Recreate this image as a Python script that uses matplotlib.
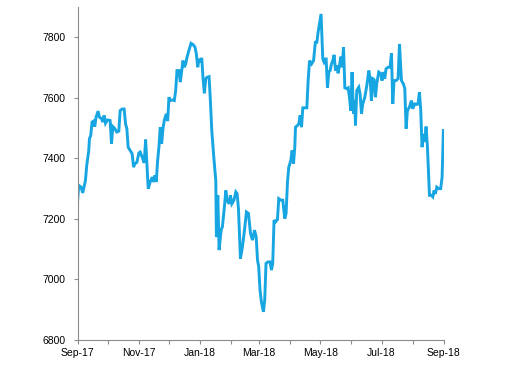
import matplotlib
matplotlib.use("Agg")
import matplotlib.pyplot as plt
import matplotlib.dates as mdates
import numpy as np
import pandas as pd

start_date = "2017-09-01"
end_date = "2018-09-01"

# day offsets from start_date and index level
days = [0, 1, 3.3, 5, 6.3, 7.7, 9, 11, 11.7, 13, 14.3, 15.7, 17, 18.3, 20.3, 21.7,
        23.7, 25, 26.3, 27.7, 29.7, 32.3, 33.7, 35, 37, 39, 41, 42.3, 44.3, 46.3,
        47.7, 49, 50.3, 52.3, 54.3, 55.7, 57, 59, 61, 62.3, 64.3, 66.3, 67.7, 69,
        70.3, 72.3, 74.3, 75.7, 77, 78.3, 79.7, 81, 82.3, 83.7, 85, 86.3, 88.3,
        89.7, 91, 92.3, 94.3, 96.3, 97.7, 99, 101, 102.3, 103.7, 105, 106.3, 107.7,
        109, 111, 113, 115, 117, 118.3, 119.7, 121, 122.3, 123.7, 125, 126.3, 127.7,
        129, 131, 132.3, 133.7, 135.7, 137.7, 138.3, 139.7, 141, 143, 144.3, 146.3,
        147.7, 149, 151, 152.3, 153.7, 155.7, 157.7, 159, 160.3, 162.3, 164.3, 166.3,
        168.3, 170.3, 172.3, 174.3, 176.3, 178, 179.3, 180.5, 181.8, 183.2, 185.2,
        186.5, 187.8, 189.8, 191.8, 193.2, 194.5, 195.8, 197.2, 199.2, 200.5, 202.5,
        204.5, 206.5, 207.8, 209.2, 210.5, 212.5, 213.8, 215.2, 216.5, 217.2, 219.2,
        220.5, 221.8, 223.2, 224.5, 226.5, 228.5, 229.8, 231.2, 233.2, 235.2, 237.1,
        238.4, 239.7, 241.1, 242.7, 244.4, 245.7, 247.7, 249.1, 250.4, 251.7, 253.1,
        254.4, 255.7, 257.1, 258.4, 259.7, 261.1, 262.4, 263.7, 265.1, 266.4, 268.4,
        269.7, 271.0, 272.3, 273.6, 275.0, 276.3, 277.0, 278.3, 280.3, 281.6, 283.0,
        284.3, 286.3, 288.3, 290.3, 291.6, 292.9, 294.3, 295.6, 296.9, 298.2, 300.2,
        302.2, 303.5, 304.9, 306.2, 307.5, 309.5, 311.5, 312.9, 314.2, 315.5, 317.5,
        319.5, 320.9, 322.9, 324.8, 326.2, 327.5, 328.8, 330.8, 332.8, 334.1, 336.1,
        338.1, 339.4, 340.8, 342.1, 343.4, 344.8, 346.1, 347.4, 348.8, 350.1, 350.8,
        352.7, 354.1, 355.4, 356.7, 358.1, 360.0, 362.0, 363.4, 364.7]

values = [7264, 7311, 7305, 7286, 7305, 7327, 7377, 7426, 7465, 7476, 7520, 7523, 7505,
          7536, 7556, 7536, 7531, 7520, 7542, 7516, 7527, 7525, 7448, 7505, 7498, 7487,
          7490, 7558, 7563, 7563, 7514, 7498, 7437, 7426, 7415, 7371, 7382, 7387, 7418,
          7421, 7404, 7385, 7462, 7382, 7300, 7322, 7338, 7322, 7344, 7322, 7393, 7437,
          7503, 7448, 7498, 7525, 7547, 7523, 7602, 7591, 7593, 7591, 7624, 7690, 7690,
          7652, 7688, 7723, 7701, 7712, 7734, 7758, 7780, 7776, 7767, 7745, 7701, 7729,
          7718, 7732, 7663, 7615, 7663, 7668, 7670, 7591, 7492, 7404, 7327, 7140, 7278,
          7097, 7163, 7174, 7240, 7294, 7261, 7250, 7278, 7250, 7261, 7289, 7283, 7234,
          7069, 7108, 7163, 7223, 7218, 7152, 7130, 7163, 7140, 7064, 7042, 6965, 6926,
          6893, 6932, 7053, 7058, 7058, 7031, 7053, 7196, 7190, 7198, 7267, 7262, 7262,
          7201, 7218, 7322, 7371, 7393, 7426, 7382, 7437, 7503, 7509, 7514, 7542, 7503,
          7567, 7567, 7567, 7657, 7723, 7712, 7723, 7787, 7780, 7816, 7844, 7877, 7729,
          7718, 7732, 7633, 7685, 7690, 7712, 7723, 7742, 7690, 7707, 7681, 7707, 7736,
          7701, 7767, 7633, 7630, 7633, 7602, 7558, 7685, 7547, 7591, 7509, 7624, 7635,
          7613, 7547, 7580, 7602, 7640, 7690, 7663, 7591, 7663, 7660, 7602, 7646, 7685,
          7680, 7657, 7685, 7663, 7696, 7701, 7701, 7747, 7580, 7657, 7657, 7663, 7778,
          7657, 7646, 7630, 7498, 7558, 7569, 7591, 7564, 7580, 7578, 7580, 7619, 7558,
          7437, 7481, 7454, 7505, 7437, 7338, 7278, 7278, 7273, 7294, 7283, 7305, 7300,
          7300, 7338, 7492]

y_ticks = [6800, 7000, 7200, 7400, 7600, 7800]
y_min, y_max = 6800, 7900

t0 = mdates.date2num(pd.Timestamp(start_date))
x = t0 + np.array(days)

fig = plt.figure(figsize=(5.12, 3.65), dpi=100)
ax = fig.add_axes([0.1518, 0.0685, 0.7148, 0.9123])
ax.plot(x, values, color="#17A6E2", lw=2.1, solid_joinstyle="miter")

ax.set_xlim(t0, mdates.date2num(pd.Timestamp(end_date)))
ax.set_ylim(y_min, y_max)
ax.set_yticks(y_ticks)

ax.xaxis.set_major_locator(mdates.MonthLocator(bymonth=[1, 3, 5, 7, 9, 11]))
ax.xaxis.set_minor_locator(mdates.MonthLocator())
ax.xaxis.set_major_formatter(mdates.DateFormatter("%b-%y"))

for s in ["top", "right"]:
    ax.spines[s].set_visible(False)
for s in ["left", "bottom"]:
    ax.spines[s].set_color("#8c8c8c")
    ax.spines[s].set_linewidth(0.8)

ax.tick_params(axis="both", which="both", direction="out", length=3, width=0.8,
               color="#8c8c8c", labelsize=7.5, labelcolor="#000000")
ax.tick_params(axis="x", pad=3)
ax.tick_params(axis="y", pad=6)
for lab in ax.get_xticklabels() + ax.get_yticklabels():
    lab.set_family("Liberation Sans")

fig.savefig("out.png", dpi=100)
